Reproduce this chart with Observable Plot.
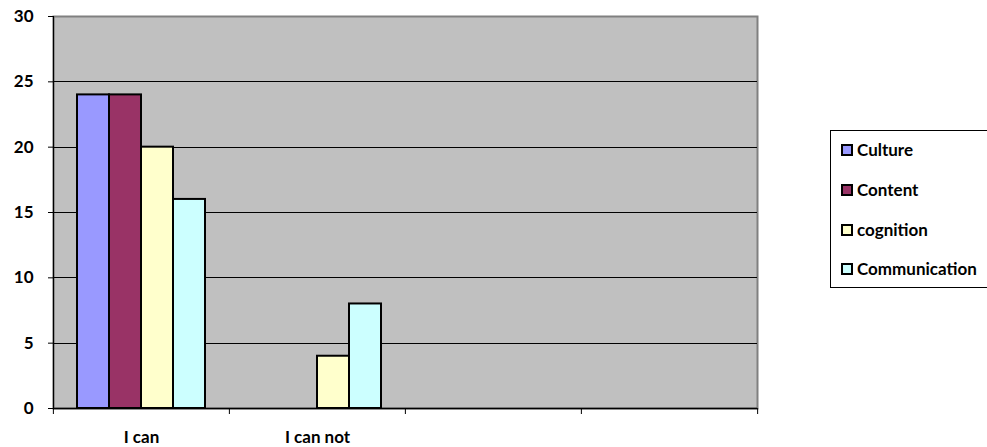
<!DOCTYPE html>
<html>
<head>
<meta charset="utf-8">
<script src="https://cdn.jsdelivr.net/npm/d3@7"></script>
<script src="https://cdn.jsdelivr.net/npm/@observablehq/plot@0.6"></script>
<style>
  html, body { margin: 0; padding: 0; background: #fff; overflow: hidden; }
  #wrap { position: relative; width: 987px; height: 447px; overflow: hidden; font-family: Lato, "Open Sans", sans-serif; }
  #legend { position: absolute; left: 830px; top: 130px; width: 162px; height: 158px; border: 1px solid #000; box-sizing: border-box; background: #fff; }
  .item { position: absolute; left: 10px; display: flex; align-items: center; font-weight: bold; font-size: 17px; color: #000; white-space: nowrap; }
  .sw { width: 8px; height: 8px; border: 2px solid #000; margin-right: 4px; }
</style>
</head>
<body>
<div id="wrap"><div id="chart"></div><div id="legend"></div></div>
<script>
const categories = ["I can", "I can not", " ", "  "];
const series = ["Culture", "Content", "cognition", "Communication"];
const iCanValues = [24, 24, 20, 16];
const iCanNotValues = [0, 0, 4, 8];
const colors = ["#9999FF", "#993366", "#FFFFCC", "#CCFFFF"];
const yTicks = [0, 5, 10, 15, 20, 25, 30];

const data = [];
series.forEach((s, i) => {
  data.push({category: categories[0], series: s, value: iCanValues[i]});
  data.push({category: categories[1], series: s, value: iCanNotValues[i]});
});
const barData = data.filter(d => d.value > 0);
const facetKeys = categories.map(c => ({category: c}));

const W = 987, H = 447, ML = 52, MR = 230, MT = 16, MB = 39;
const band = (W - ML - MR) / categories.length;

const chart = Plot.plot({
  width: W, height: H,
  marginLeft: ML, marginRight: MR, marginTop: MT, marginBottom: MB,
  style: {fontFamily: "Lato, 'Open Sans', sans-serif", fontSize: "17px", fontWeight: "bold", color: "#000", background: "transparent"},
  fx: {domain: categories, padding: 0, axis: "bottom", tickSize: 0, tickPadding: 22, tickFormat: d => d.trim(), label: null},
  x: {domain: series, paddingInner: 0, paddingOuter: 0.75, axis: null},
  y: {domain: [0, 30], axis: null},
  color: {domain: series, range: colors},
  marks: [
    Plot.frame({fill: "#C0C0C0", stroke: "#808080", strokeWidth: 2, facet: "super"}),
    Plot.ruleY(facetKeys, {fx: "category", y: 0, stroke: "#000", strokeWidth: 1.5}),
    Plot.gridY(yTicks.slice(0, -1), {stroke: "#000", strokeOpacity: 1, strokeWidth: 1, shapeRendering: "crispEdges"}),
    Plot.barY(barData, {fx: "category", x: "series", y: "value", fill: "series", stroke: "#000", strokeWidth: 2}),
    Plot.frame({anchor: "left", stroke: "#000", strokeWidth: 1.2, facet: "super"}),
    Plot.axisY(yTicks, {anchor: "left", tickSize: 5, tickPadding: 15, fontSize: 17, fontWeight: "bold", stroke: "#000", fill: "#000", label: null}),
    Plot.axisFx({anchor: "bottom", tickSize: 6, tickFormat: () => "", dx: -band / 2, stroke: "#000", label: null}),
    Plot.axisFx({anchor: "bottom", ticks: [categories[categories.length - 1]], tickSize: 6, tickFormat: () => "", dx: band / 2, stroke: "#000", label: null})
  ]
});
document.getElementById("chart").appendChild(chart);

const legend = document.getElementById("legend");
const rowY = [19, 59, 99, 138];
series.forEach((s, i) => {
  const el = document.createElement("div");
  el.className = "item";
  el.style.top = (rowY[i] - 11) + "px";
  el.innerHTML = `<span class="sw" style="background:${colors[i]}"></span><span>${s}</span>`;
  legend.appendChild(el);
});
</script>
</body>
</html>
